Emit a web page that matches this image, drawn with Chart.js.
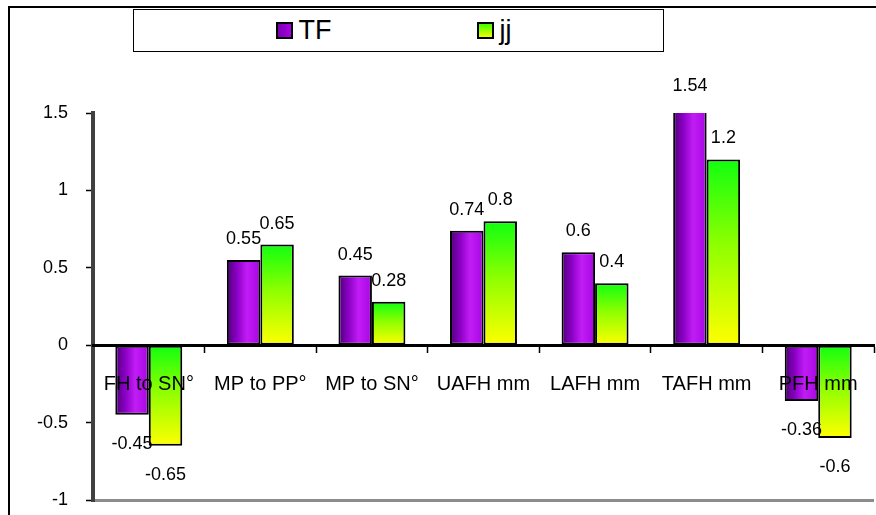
<!DOCTYPE html>
<html>
<head>
<meta charset="utf-8">
<script src="https://cdn.jsdelivr.net/npm/chart.js@4.4.1/dist/chart.umd.min.js"></script>
<style>
  html, body { margin: 0; padding: 0; background: #fff; }
  #wrap { position: relative; width: 876px; height: 515px; overflow: hidden; }
  #frame { position: absolute; left: 8px; top: 6px; width: 900px; height: 600px;
           border-top: 2px solid #000; border-left: 2px solid #000; }
  #legend { position: absolute; left: 133px; top: 9px; width: 529px; height: 41px;
            border: 1.5px solid #000; background: #fff;
            display: flex; align-items: center; justify-content: center;
            font-family: 'Liberation Sans', Arial, sans-serif; font-size: 27px; color: #000; }
  #legend .inner { display: flex; align-items: center; gap: 145px; margin-right: 10px; }
  #legend .item { display: flex; align-items: center; }
  #legend .sw { width: 13px; height: 13px; border: 2px solid #000; margin-right: 6px; }
  #chart-box { position: absolute; left: 0; top: 0; width: 876px; height: 515px; }
</style>
</head>
<body>
<div id="wrap">
  <div id="frame"></div>
  <div id="chart-box"><canvas id="c"></canvas></div>
  <div id="legend"></div>
</div>
<script>
// data
const categories = ['FH to SN°', 'MP to PP°', 'MP to SN°', 'UAFH mm', 'LAFH mm', 'TAFH mm', 'PFH mm'];
const tfValues = [-0.45, 0.55, 0.45, 0.74, 0.6, 1.54, -0.36];
const jjValues = [-0.65, 0.65, 0.28, 0.8, 0.4, 1.2, -0.6];
const seriesNames = ['TF', 'jj'];
const yTicks = { min: -1, max: 1.5, step: 0.5 };

const FONT = "'Liberation Sans', Arial, sans-serif";
const CAT_PCT = 0.6;

// pixel box of one bar, worked out from the scales (elements are not placed yet
// when the colour options get resolved)
function barBox(chart, dsIndex, idx) {
  const xs = chart.scales.x, ys = chart.scales.y;
  const v = chart.data.datasets[dsIndex].data[idx];
  const center = xs.getPixelForValue(idx);
  const w = xs.width / categories.length * CAT_PCT / 2;
  const left = dsIndex === 0 ? center - w : center;
  return {
    left: left, right: left + w,
    top: ys.getPixelForValue(Math.max(v, 0)),
    bottom: ys.getPixelForValue(Math.min(v, 0))
  };
}

function tfFill(ctx) {
  const chart = ctx.chart;
  if (!chart.chartArea || !chart.scales.x) return '#9900cc';
  const b = barBox(chart, ctx.datasetIndex, ctx.dataIndex);
  const g = chart.ctx.createLinearGradient(b.left, 0, b.right, 0);
  g.addColorStop(0, '#4e0078');
  g.addColorStop(0.3, '#8a00c4');
  g.addColorStop(0.6, '#c21cf6');
  g.addColorStop(1, '#a606e2');
  return g;
}

function jjFill(ctx) {
  const chart = ctx.chart;
  if (!chart.chartArea || !chart.scales.x) return '#ccff00';
  const b = barBox(chart, ctx.datasetIndex, ctx.dataIndex);
  const g = chart.ctx.createLinearGradient(0, b.top, 0, b.bottom);
  g.addColorStop(0, '#10ff10');
  g.addColorStop(0.45, '#8cff00');
  g.addColorStop(1, '#ffff00');
  return g;
}

// value labels above / below each bar
const valueLabels = {
  id: 'valueLabels',
  afterDatasetsDraw(chart) {
    const c = chart.ctx;
    c.save();
    c.font = '18px ' + FONT;
    c.fillStyle = '#000';
    c.textAlign = 'center';
    c.textBaseline = 'alphabetic';
    chart.data.datasets.forEach((ds, i) => {
      chart.getDatasetMeta(i).data.forEach((bar, j) => {
        const v = ds.data[j];
        const y = v >= 0 ? bar.y - 16 : bar.y + 34;
        c.fillText(String(v), bar.x, y);
      });
    });
    c.restore();
  }
};

const chart = new Chart(document.getElementById('c'), {
  type: 'bar',
  data: {
    labels: categories,
    datasets: [
      { label: seriesNames[0], data: tfValues, backgroundColor: tfFill,
        borderColor: '#000', borderWidth: 2, borderSkipped: false,
        barPercentage: 1, categoryPercentage: CAT_PCT },
      { label: seriesNames[1], data: jjValues, backgroundColor: jjFill,
        borderColor: '#000', borderWidth: 2, borderSkipped: false,
        barPercentage: 1, categoryPercentage: CAT_PCT }
    ]
  },
  options: {
    responsive: true,
    maintainAspectRatio: false,
    animation: false,
    layout: { padding: { top: 113, bottom: 15, left: 0, right: 2 } },
    plugins: { legend: { display: false }, tooltip: { enabled: false } },
    scales: {
      x: {
        position: { y: 0 },
        // axis sits on the zero line, so it should not take room from the plot
        afterFit(scale) { scale.height = 0; scale.paddingLeft = 0; scale.paddingRight = 0; },
        grid: { drawOnChartArea: false, offset: true, tickLength: 6, tickColor: '#000', tickWidth: 1.5 },
        border: { color: '#000', width: 3, z: 1 },
        ticks: { z: 1, color: '#000', font: { family: FONT, size: 20 }, padding: 21, maxRotation: 0, autoSkip: false }
      },
      y: {
        min: yTicks.min, max: yTicks.max,
        afterFit(scale) { scale.width = 93; scale.paddingTop = 0; scale.paddingBottom = 0; },
        grid: {
          color: (c) => c.tick && c.tick.value === yTicks.min ? '#8c8c8c' : 'rgba(0,0,0,0)',
          lineWidth: (c) => c.tick && c.tick.value === yTicks.min ? 3 : 1,
          tickColor: '#000', tickWidth: 1.5, tickLength: 7
        },
        border: { color: '#404040', width: 4 },
        ticks: {
          stepSize: yTicks.step, color: '#000', font: { family: FONT, size: 18 }, padding: 18,
          callback: (v) => String(Math.round(v * 100) / 100)
        }
      }
    }
  },
  plugins: [valueLabels]
});

// legend box drawn as html, built from the datasets
const swatchStyles = [
  'background: linear-gradient(90deg, #7a00b0, #a800e6);',
  'background: linear-gradient(180deg, #40ff00, #f0ff00);'
];
document.getElementById('legend').innerHTML = '<div class="inner">' + chart.data.datasets.map((ds, i) =>
  '<div class="item"><span class="sw" style="' + swatchStyles[i] + '"></span>' + ds.label + '</div>'
).join('') + '</div>';
</script>
</body>
</html>
